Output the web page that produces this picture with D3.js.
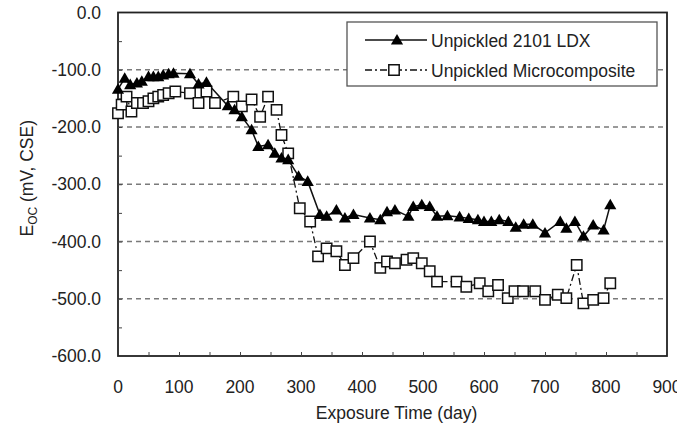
<!DOCTYPE html>
<html>
<head>
<meta charset="utf-8">
<script src="https://cdn.jsdelivr.net/npm/d3@7"></script>
<style>
  body { margin: 0; background: #fff; }
  svg { font-family: "Liberation Sans", Arial, sans-serif; }
</style>
</head>
<body>
<script>
// Unpickled 2101 LDX (triangles)
const ldxDays = [0, 11, 20, 31, 39, 50, 58, 66, 74, 83, 91, 118, 132, 145, 180, 191, 203, 219, 230, 246, 257, 268, 279, 296, 311,
  331, 342, 358, 372, 386, 413, 430, 441, 454, 476, 484, 498, 511, 523, 540, 560, 575, 590, 600, 612, 625, 640, 652, 665, 680, 700,
  725, 735, 749, 763, 779, 796, 807]
const ldxVals = [-134, -115, -126, -123, -120, -112, -112, -112, -109, -107, -106, -107, -125, -122, -163, -170, -182, -205, -234, -231, -246, -254, -257, -286, -295,
  -353, -356, -345, -359, -353, -359, -362, -348, -345, -356, -339, -336, -339, -356, -355, -357, -360, -362, -365, -365, -362, -365, -375, -370, -370, -385,
  -365, -377, -365, -391, -371, -380, -336]

// Unpickled Microcomposite (squares)
const mcDays = [0, 6, 14, 22, 31, 41, 50, 58, 66, 74, 83, 94, 118, 132, 145, 159, 189, 203, 219, 233, 246, 260, 268, 279, 298, 315,
  328, 342, 358, 372, 386, 413, 430, 441, 454, 473, 484, 498, 511, 523, 555, 571, 593, 607, 623, 639, 650, 664, 684, 700,
  721, 735, 752, 763, 779, 796, 807]
const mcVals = [-176, -161, -147, -173, -158, -158, -155, -150, -147, -144, -141, -138, -141, -158, -138, -158, -147, -164, -152, -182, -147, -170, -214, -246, -342, -365,
  -426, -412, -417, -441, -429, -400, -446, -435, -438, -432, -429, -438, -452, -470, -470, -479, -473, -487, -476, -499, -487, -487, -487, -502,
  -493, -499, -441, -508, -502, -499, -473]

const xTicks = [0, 100, 200, 300, 400, 500, 600, 700, 800, 900]
const yTicks = [0, -100, -200, -300, -400, -500, -600]

const W = 695, H = 427
const pLeft = 118, pRight = 667, pTop = 12.5, pBottom = 356
const fs = 17.5

const svg = d3.select('body').append('svg').attr('width', W).attr('height', H)

// the original figure is cut off at the right edge
svg.append('defs').append('clipPath').attr('id', 'crop')
  .append('rect').attr('x', 0).attr('y', 0).attr('width', 677).attr('height', H)

const x = d3.scaleLinear().domain([0, 900]).range([pLeft, pRight])
const y = d3.scaleLinear().domain([-600, 0]).range([pBottom, pTop])

// dashed gridlines
svg.append('g')
  .selectAll('line')
  .data(yTicks.filter(d => d > -600 && d < 0))
  .enter().append('line')
    .attr('x1', pLeft).attr('x2', pRight)
    .attr('y1', d => y(d)).attr('y2', d => y(d))
    .attr('stroke', '#7a7a7a')
    .attr('stroke-width', 1.3)
    .attr('stroke-dasharray', '5,4')

// frame
svg.append('rect')
  .attr('x', pLeft).attr('y', pTop)
  .attr('width', pRight - pLeft).attr('height', pBottom - pTop)
  .attr('fill', 'none').attr('stroke', '#222').attr('stroke-width', 1.8)

// inward minor ticks every 50
svg.append('g')
  .attr('transform', `translate(0,${pBottom})`)
  .call(d3.axisBottom(x).tickValues(d3.range(50, 900, 50)).tickSize(-4).tickFormat(''))
  .call(g => g.select('.domain').remove())
  .call(g => g.selectAll('line').attr('stroke', '#444'))
svg.append('g')
  .attr('transform', `translate(${pLeft},0)`)
  .call(d3.axisLeft(y).tickValues(d3.range(-550, 0, 50)).tickSize(-4).tickFormat(''))
  .call(g => g.select('.domain').remove())
  .call(g => g.selectAll('line').attr('stroke', '#444'))

// tick labels
svg.append('g')
  .attr('clip-path', 'url(#crop)')
  .selectAll('text')
  .data(xTicks)
  .enter().append('text')
    .attr('x', d => x(d)).attr('y', 393)
    .attr('text-anchor', 'middle')
    .attr('font-size', fs)
    .attr('fill', '#222')
    .text(d => d)
svg.append('g')
  .selectAll('text')
  .data(yTicks)
  .enter().append('text')
    .attr('x', 101).attr('y', d => y(d) + 6)
    .attr('text-anchor', 'end')
    .attr('font-size', fs)
    .attr('fill', '#222')
    .text(d => d3.format('.1f')(d).replace('−', '-'))

// axis titles
svg.append('text')
  .attr('x', (pLeft + pRight) / 2 + 4).attr('y', 419)
  .attr('text-anchor', 'middle')
  .attr('font-size', fs)
  .attr('fill', '#222')
  .text('Exposure Time (day)')

const yt = svg.append('text')
  .attr('transform', `translate(33,${(pTop + pBottom) / 2 - 6}) rotate(-90)`)
  .attr('text-anchor', 'middle')
  .attr('font-size', fs)
  .attr('fill', '#222')
yt.append('tspan').text('E')
yt.append('tspan').attr('font-size', 12).attr('dy', 4).text('OC')
yt.append('tspan').attr('dy', -4).text(' (mV, CSE)')

// series
const ldx = ldxDays.map((d, i) => [d, ldxVals[i]])
const mc = mcDays.map((d, i) => [d, mcVals[i]])
const line = d3.line().x(d => x(d[0])).y(d => y(d[1]))

svg.append('path')
  .datum(mc)
  .attr('d', line)
  .attr('fill', 'none')
  .attr('stroke', '#111')
  .attr('stroke-width', 1.3)
  .attr('stroke-dasharray', '7,3,2,3')

svg.append('path')
  .datum(ldx)
  .attr('d', line)
  .attr('fill', 'none')
  .attr('stroke', '#111')
  .attr('stroke-width', 1.5)

const tri = d3.symbol().type(d3.symbolTriangle).size(64)
const sq = d3.symbol().type(d3.symbolSquare).size(108)

svg.append('g')
  .selectAll('path')
  .data(mc)
  .enter().append('path')
    .attr('d', sq)
    .attr('transform', d => `translate(${x(d[0])},${y(d[1])})`)
    .attr('fill', '#fff')
    .attr('stroke', '#111')
    .attr('stroke-width', 1.5)

svg.append('g')
  .selectAll('path')
  .data(ldx)
  .enter().append('path')
    .attr('d', tri)
    .attr('transform', d => `translate(${x(d[0])},${y(d[1]) + 1})`)
    .attr('fill', '#000')

// legend
const lg = svg.append('g')
lg.append('rect')
  .attr('x', 347).attr('y', 22)
  .attr('width', 310).attr('height', 64)
  .attr('fill', '#fff').attr('stroke', '#555').attr('stroke-width', 1.3)

lg.append('line')
  .attr('x1', 365).attr('x2', 427).attr('y1', 40).attr('y2', 40)
  .attr('stroke', '#111').attr('stroke-width', 1.5)
lg.append('path').attr('d', tri).attr('transform', 'translate(397,41)').attr('fill', '#000')
lg.append('text').attr('x', 431).attr('y', 46.5).attr('font-size', fs).attr('fill', '#222').text('Unpickled 2101 LDX')

lg.append('line')
  .attr('x1', 365).attr('x2', 427).attr('y1', 70).attr('y2', 70)
  .attr('stroke', '#111').attr('stroke-width', 1.3)
  .attr('stroke-dasharray', '7,3,2,3')
lg.append('path').attr('d', sq).attr('transform', 'translate(394,70)')
  .attr('fill', '#fff').attr('stroke', '#111').attr('stroke-width', 1.5)
lg.append('text').attr('x', 431).attr('y', 76.5).attr('font-size', fs).attr('fill', '#222').text('Unpickled Microcomposite')
</script>
</body>
</html>
